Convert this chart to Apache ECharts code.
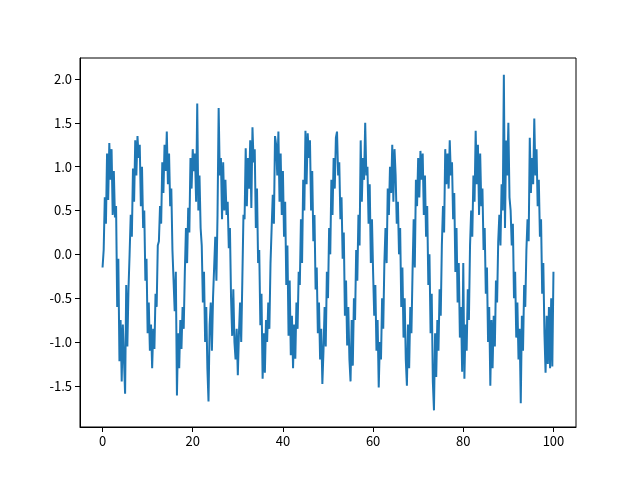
<!DOCTYPE html>
<html>
<head>
<meta charset="utf-8">
<script src="https://cdn.jsdelivr.net/npm/echarts@6/dist/echarts.min.js"></script>
<style>html,body{margin:0;padding:0;background:#fff}#c{width:640px;height:480px}</style>
</head>
<body>
<div id="c"></div>
<script>
// sampling grid of the x values
const xStart = 0;
const xStep = 0.25;
// y values, one block per sine cycle
const yValues = [
 // 0 .. 6.0
 -0.15, 0.05, 0.65, 0.35, 1.15, 0.62, 1.27, 0.85, 1.2, 0.45, 0.95, 0.42, 0.55, -0.6, -0.05, -1.22, -0.75, -1.45, -0.8, -1.2, -1.59, -0.35, -1.05, -0.4, 0.0,
 // 6.25 .. 12.25
 0.45, 0.2, 0.98, 0.6, 1.3, 0.9, 1.35, 1.1, 1.25, 0.55, 1.0, 0.3, 0.5, -0.3, -0.05, -0.9, -0.55, -1.1, -0.8, -1.3, -0.85, -1.08, -0.45, -0.6, 0.1,
 // 12.5 .. 18.5
 0.15, 0.55, 0.35, 1.05, 0.7, 1.25, 0.95, 1.4, 0.8, 1.15, 0.55, 0.75, 0.05, -0.3, -0.65, -0.2, -1.61, -0.9, -1.3, -0.75, -1.08, -0.6, -0.85, -0.2, 0.3,
 // 18.75 .. 25.0
 -0.1, 0.53, 0.25, 1.1, 0.75, 1.2, 0.95, 1.15, 0.6, 1.72, 0.5, 0.9, 0.3, 0.1, -0.55, -0.2, -1.0, -0.6, -1.3, -1.68, -0.8, -0.55, -1.1, -0.5, -0.5, 0.2,
 // 25.25 .. 31.25
 -0.3, 0.45, 1.67, 0.9, 1.1, 0.4, 1.05, 0.5, 0.85, 0.45, 0.6, 0.07, 0.3, -0.5, -0.93, -0.4, -1.0, -1.2, -0.85, -1.38, -0.9, -0.55, -1.0, -0.3, 0.45,
 // 31.5 .. 37.5
 0.4, 1.21, 0.55, 1.1, 0.75, 1.3, 0.53, 1.45, 1.05, 1.2, 0.3, 0.75, -0.1, 0.05, -0.81, -0.45, -1.42, -0.9, -1.35, -0.75, -1.0, -0.55, -0.85, -0.1, 0.3,
 // 37.75 .. 43.75
 0.68, 0.35, 1.35, 1.25, 0.9, 1.4, 0.6, 1.15, 0.45, 0.95, 0.2, 0.6, -0.35, 0.1, -0.93, -0.3, -1.15, -0.7, -1.3, -0.8, -1.19, -0.55, -0.85, -0.2, -0.35,
 // 44.0 .. 50.0
 0.4, -0.1, 0.85, 0.5, 1.41, 0.8, 1.38, 1.1, 1.3, 0.5, 0.95, 0.15, 0.45, -0.4, -0.15, -0.9, -0.55, -1.2, -0.85, -1.48, -1.1, -0.6, -1.05, -0.2, -0.5,
 // 50.25 .. 56.25
 0.3, 0.0, 0.85, 0.45, 1.1, 0.75, 1.33, 1.4, 0.9, 1.05, 0.4, 0.65, -0.05, 0.25, -0.7, -0.3, -1.04, -0.6, -1.2, -1.45, -0.75, -1.27, -0.5, -0.75, 0.05,
 // 56.5 .. 62.5
 -0.3, 0.45, 0.1, 1.3, 0.6, 1.1, 0.85, 1.5, 0.9, 1.0, 0.35, 0.8, -0.1, 0.4, -0.2, -0.7, -0.35, -1.1, -0.75, -1.52, -1.0, -1.2, -0.5, -0.85, -0.1,
 // 62.75 .. 68.75
 0.3, -0.1, 0.75, 0.45, 1.0, 0.7, 1.25, 0.6, 1.2, 0.9, 0.35, 0.6, 0.0, 0.3, -0.6, -0.15, -0.95, -0.5, -1.2, -1.5, -0.8, -1.3, -0.6, -0.9, -0.2,
 // 69.0 .. 75.25
 0.4, -0.15, 0.85, 0.55, 1.1, 0.65, 1.18, 0.85, 1.15, 0.45, 0.9, 0.2, 0.55, -0.35, 0.0, -0.9, -0.45, -1.45, -1.78, -0.9, -1.4, -0.75, -1.1, -0.4, -0.7, 0.1,
 // 75.5 .. 81.5
 0.55, 0.25, 1.2, 0.8, 1.15, 0.75, 1.3, 0.9, 1.05, 0.4, 0.7, -0.2, 0.3, -0.55, -0.1, -0.95, -0.6, -1.34, -0.1, -1.42, -0.8, -1.1, -0.4, -0.75, 0.1,
 // 81.75 .. 87.75
 0.5, 0.2, 0.9, 0.6, 1.41, 0.8, 1.25, 0.45, 1.15, 0.55, 0.75, 0.05, 0.3, -0.45, -0.15, -1.0, -0.6, -1.5, -0.75, -1.3, -0.7, -1.05, -0.3, -0.55, 0.15,
 // 88.0 .. 94.0
 0.45, 0.1, 0.8, 0.5, 2.05, 0.3, 1.3, 0.9, 1.5, 0.65, 0.5, 0.1, 0.35, -0.5, -0.2, -0.95, -0.55, -1.2, -0.85, -1.7, -0.7, -1.1, -0.35, -0.6, 0.05,
 // 94.25 .. 100.0
 0.4, 0.15, 1.33, 0.7, 1.1, 0.8, 1.55, 0.9, 1.2, 0.55, 0.85, 0.2, 0.4, -0.45, -0.1, -0.9, -1.35, -0.7, -1.25, -0.6, -1.3, -0.5, -1.28, -0.2
];
const xTickValues = [0, 20, 40, 60, 80, 100];
const yTickValues = [-1.5, -1.0, -0.5, 0.0, 0.5, 1.0, 1.5, 2.0];

const seriesData = yValues.map((y, i) => [xStart + i * xStep, y]);
const font = '"Noto Sans CJK JP", "DejaVu Sans", sans-serif';

const chart = echarts.init(document.getElementById('c'), null, {renderer: 'canvas', width: 640, height: 480});
chart.setOption({
  animation: false,
  backgroundColor: '#fff',
  grid: {left: 80, right: 64, top: 58, bottom: 53, show: true, borderColor: '#000', borderWidth: 1, backgroundColor: 'transparent'},
  xAxis: {
    type: 'value', min: -5, max: 105,
    splitLine: {show: false},
    axisLine: {show: true, onZero: false, lineStyle: {color: '#000', width: 1}},
    axisTick: {show: true, customValues: xTickValues, length: 5, lineStyle: {color: '#000', width: 1}},
    axisLabel: {customValues: xTickValues, color: '#000', fontSize: 13, fontFamily: font, margin: 8,
      formatter: v => String(v)}
  },
  yAxis: {
    type: 'value', min: -1.97, max: 2.24,
    splitLine: {show: false},
    axisLine: {show: true, onZero: false, lineStyle: {color: '#000', width: 1}},
    axisTick: {show: true, customValues: yTickValues, length: 5, lineStyle: {color: '#000', width: 1}},
    axisLabel: {customValues: yTickValues, color: '#000', fontSize: 13, fontFamily: font, margin: 8,
      formatter: v => v.toFixed(1)}
  },
  series: [{
    type: 'line', data: seriesData, showSymbol: false, symbol: 'none',
    lineStyle: {color: '#1f77b4', width: 2}, itemStyle: {color: '#1f77b4'}
  }]
});
</script>
</body>
</html>
